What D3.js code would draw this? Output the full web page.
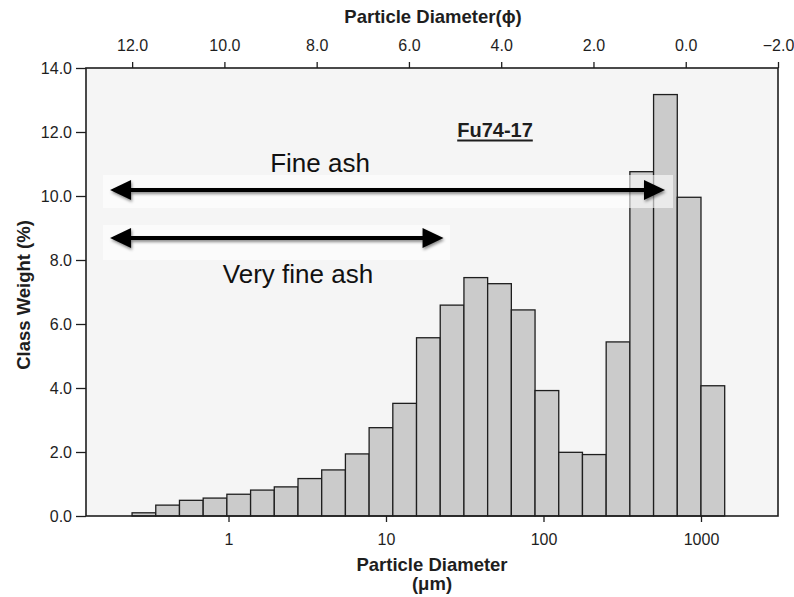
<!DOCTYPE html>
<html>
<head>
<meta charset="utf-8">
<script src="https://cdn.jsdelivr.net/npm/d3@7"></script>
<style>
  html, body { margin: 0; padding: 0; background: #ffffff; }
  svg { display: block; font-family: "Liberation Sans", Arial, Helvetica, sans-serif; }
</style>
</head>
<body>
<svg id="chart" width="794" height="597"></svg>
<script>
// ---- data ----
// fine (left) edge of each 0.5-phi class
const binPhi = [12.0, 11.5, 11.0, 10.5, 10.0, 9.5, 9.0, 8.5, 8.0, 7.5, 7.0, 6.5, 6.0,
                5.5, 5.0, 4.5, 4.0, 3.5, 3.0, 2.5, 2.0, 1.5, 1.0, 0.5, 0.0];
const classWeight = [0.10, 0.34, 0.49, 0.56, 0.68, 0.81, 0.91, 1.17, 1.44, 1.94, 2.76, 3.52, 5.57,
                     6.59, 7.45, 7.26, 6.44, 3.92, 1.99, 1.92, 5.44, 10.76, 13.17, 9.96, 4.07];
const binWidthPhi = 0.5;
const phiTicks = [12, 10, 8, 6, 4, 2, 0, -2];
const umTicks = [1, 10, 100, 1000];
const yTicks = [0, 2, 4, 6, 8, 10, 12, 14];
const sampleLabel = "Fu74-17";
const ranges = [
  { label: "Fine ash", fromPhi: 12.5, toPhi: 0.45 },
  { label: "Very fine ash", fromPhi: 12.5, toPhi: 5.25 }
];

// ---- layout ----
const svg = d3.select("#chart");
const L = 86, R = 778, T = 68, B = 516;
const ink = "#1e1e1e";

const y = d3.scaleLinear().domain([0, 14]).range([B, T]);
const xTop = d3.scaleLinear().domain([13, -2]).range([L, R]);
const xUm = d3.scaleLog().domain([0.1245, 3083]).range([L, R]);
const phiToUm = p => 1000 * Math.pow(2, -p);

// defs
const defs = svg.append("defs");
const sh = defs.append("filter").attr("id", "shadow").attr("x", "-10%").attr("y", "-50%").attr("width", "120%").attr("height", "200%");
sh.append("feDropShadow").attr("dx", 1).attr("dy", 2).attr("stdDeviation", 1.6)
  .attr("flood-color", "#000").attr("flood-opacity", 0.45);

// plot background
svg.append("rect").attr("x", L).attr("y", T).attr("width", R - L).attr("height", B - T)
  .attr("fill", "#f5f5f5");

// bars
svg.append("g").selectAll("rect").data(binPhi).join("rect")
  .attr("x", (p) => xUm(phiToUm(p)))
  .attr("width", (p) => xUm(phiToUm(p - binWidthPhi)) - xUm(phiToUm(p)))
  .attr("y", (p, i) => y(classWeight[i]))
  .attr("height", (p, i) => B - y(classWeight[i]))
  .attr("fill", "#cbcbcb")
  .attr("stroke", ink)
  .attr("stroke-width", 1.3);

// range annotations (light boxes + double arrows)
const annY = [190, 238];
const boxes = [
  { y0: 175, y1: 208, x1: 673 },
  { y0: 225, y1: 260, x1: 450 }
];
ranges.forEach((r, i) => {
  const xa = xTop(r.fromPhi) + 1, xb = xTop(r.toPhi);
  const yy = annY[i];
  svg.append("rect").attr("x", 103).attr("y", boxes[i].y0)
    .attr("width", boxes[i].x1 - 103).attr("height", boxes[i].y1 - boxes[i].y0)
    .attr("fill", "#ffffff").attr("opacity", 0.6);
  const g = svg.append("g").attr("filter", "url(#shadow)");
  g.append("line").attr("x1", xa + 14).attr("x2", xb - 14).attr("y1", yy).attr("y2", yy)
    .attr("stroke", "#000").attr("stroke-width", 4);
  g.append("path").attr("d", `M${xa},${yy} L${xa + 21},${yy - 10} L${xa + 21},${yy + 10} Z`).attr("fill", "#000");
  g.append("path").attr("d", `M${xb},${yy} L${xb - 21},${yy - 10} L${xb - 21},${yy + 10} Z`).attr("fill", "#000");
});

svg.append("text").attr("x", 320).attr("y", 172).attr("text-anchor", "middle")
  .attr("font-size", 26).attr("fill", "#111").text(ranges[0].label);
svg.append("text").attr("x", 298).attr("y", 283).attr("text-anchor", "middle")
  .attr("font-size", 26).attr("fill", "#111").text(ranges[1].label);

// sample label
const sl = svg.append("text").attr("x", 495).attr("y", 137).attr("text-anchor", "middle")
  .attr("font-size", 20).attr("font-weight", "bold").attr("fill", ink).text(sampleLabel);
const bb = sl.node().getBBox();
svg.append("line").attr("x1", bb.x).attr("x2", bb.x + bb.width).attr("y1", 140.5).attr("y2", 140.5)
  .attr("stroke", ink).attr("stroke-width", 1.8);

// frame
svg.append("rect").attr("x", L).attr("y", T).attr("width", R - L).attr("height", B - T)
  .attr("fill", "none").attr("stroke", ink).attr("stroke-width", 1.6);

// left axis
const yAxis = svg.append("g").attr("transform", `translate(${L},0)`)
  .call(d3.axisLeft(y).tickValues(yTicks).tickFormat(d3.format(".1f")).tickSize(10).tickPadding(4));
yAxis.select(".domain").remove();
yAxis.selectAll("line").attr("stroke", ink).attr("stroke-width", 1.3);
yAxis.selectAll("text").attr("font-size", 16).attr("fill", ink).attr("font-family", "Liberation Sans, Arial, sans-serif");

// top axis (phi)
const topAxis = svg.append("g").attr("transform", `translate(0,${T})`)
  .call(d3.axisTop(xTop).tickValues(phiTicks).tickFormat(d3.format(".1f")).tickSize(6).tickPadding(11));
topAxis.select(".domain").remove();
topAxis.selectAll("line").attr("stroke", ink).attr("stroke-width", 1.3);
topAxis.selectAll("text").attr("font-size", 16).attr("fill", ink).attr("font-family", "Liberation Sans, Arial, sans-serif");

// bottom axis (um)
const botAxis = svg.append("g").attr("transform", `translate(0,${B})`)
  .call(d3.axisBottom(xUm).tickValues(umTicks).tickFormat(d3.format("d")).tickSize(6).tickPadding(12));
botAxis.select(".domain").remove();
botAxis.selectAll("line").attr("stroke", ink).attr("stroke-width", 1.3);
botAxis.selectAll("text").attr("font-size", 16).attr("fill", ink).attr("font-family", "Liberation Sans, Arial, sans-serif");

// axis titles
svg.append("text").attr("x", 433).attr("y", 23).attr("text-anchor", "middle")
  .attr("font-size", 18.5).attr("font-weight", "bold").attr("fill", ink).text("Particle Diameter(ϕ)");
svg.append("text").attr("x", 432).attr("y", 571).attr("text-anchor", "middle")
  .attr("font-size", 18.5).attr("font-weight", "bold").attr("fill", ink).text("Particle Diameter");
svg.append("text").attr("x", 432).attr("y", 590).attr("text-anchor", "middle")
  .attr("font-size", 18.5).attr("font-weight", "bold").attr("fill", ink).text("(μm)");
svg.append("text").attr("transform", "translate(30,295) rotate(-90)").attr("text-anchor", "middle")
  .attr("font-size", 18.5).attr("font-weight", "bold").attr("fill", ink).text("Class Weight (%)");
</script>
</body>
</html>
